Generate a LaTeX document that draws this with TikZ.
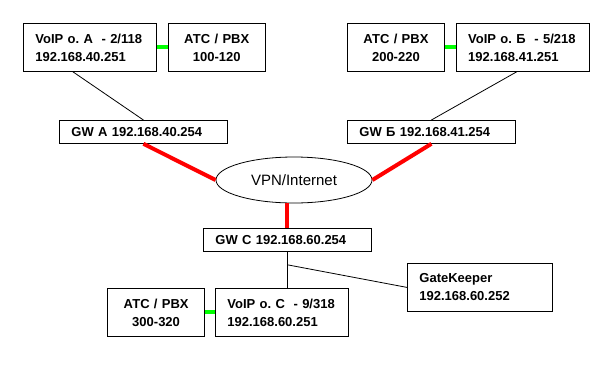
\documentclass[tikz,border=0pt]{standalone}
\usepackage{fontspec}
\setmainfont{Liberation Sans}
\usepackage{xcolor}
\definecolor{vpnred}{RGB}{255,0,0}
\definecolor{pbxgreen}{RGB}{0,255,0}
\usetikzlibrary{positioning,shapes.geometric}

\begin{document}
\begin{tikzpicture}[
  x=1pt, y=-1pt,
  box/.style={draw,line width=0.8pt,rectangle,inner xsep=12pt,inner ysep=0pt,font=\fontsize{13}{18}\selectfont\bfseries},
  voip/.style={box,text width=109pt,minimum height=48pt,align=left},
  pbx/.style={box,text width=73pt,minimum height=48pt,align=center},
  gw/.style={box,text width=144pt,minimum height=23pt,align=left},
  gkbox/.style={box,text width=121pt,minimum height=48pt,align=left},
  cloud/.style={draw,ellipse,line width=0.8pt,minimum width=156pt,minimum height=46pt,inner sep=0pt,font=\fontsize{15}{18}\selectfont},
  wire/.style={line width=0.8pt},
  trunk/.style={vpnred,line width=4pt},
  local/.style={pbxgreen,line width=4pt}
]
  \useasboundingbox (0,0) rectangle (612,372);

  \node[voip,anchor=north west] (voipA) at (23,23) {VoIP~о.~А~~-~2/118\\192.168.40.251};
  \node[pbx,right=11pt of voipA] (atcA) {АТС / PBX\\100-120};
  \node[pbx,anchor=north west] (atcB) at (347,23) {АТС / PBX\\200-220};
  \node[voip,right=11pt of atcB] (voipB) {VoIP~о.~Б~~-~5/218\\192.168.41.251};
  \node[gw,anchor=north west] (gwA) at (59,120) {GW A 192.168.40.254};
  \node[gw,anchor=north west] (gwB) at (347,120) {GW Б 192.168.41.254};
  \node[cloud] (vpn) at (294,180) {VPN/Internet};
  \node[gw,anchor=north west] (gwC) at (203,228) {GW C 192.168.60.254};
  \node[voip,anchor=north west] (voipC) at (215,288) {VoIP~о.~С~~-~9/318\\192.168.60.251};
  \node[pbx,left=10pt of voipC] (atcC) {АТС / PBX\\300-320};
  \node[gkbox,anchor=north west] (gk) at (407,263) {GateKeeper\\192.168.60.252};

  \draw[local] (voipA.east) -- (atcA.west);
  \draw[local] (atcB.east) -- (voipB.west);
  \draw[local] (atcC.east) -- (voipC.west);
  \draw[wire] ([xshift=-17pt]voipA.south) -- (gwA.north);
  \draw[wire] ([xshift=-6pt]voipB.south) -- (gwB.north);
  \draw[trunk] (gwA.south) -- (vpn.west);
  \draw[trunk] (gwB.south) -- (vpn.east);
  \draw[trunk] (vpn.south -| gwC.north) -- (gwC.north);
  \draw[wire] (gwC.south) -- (gwC.south |- voipC.north);
  \coordinate (tap) at ([yshift=-13pt]gwC.south);
  \draw[wire] (tap) -- (gk.west);
\end{tikzpicture}
\end{document}
